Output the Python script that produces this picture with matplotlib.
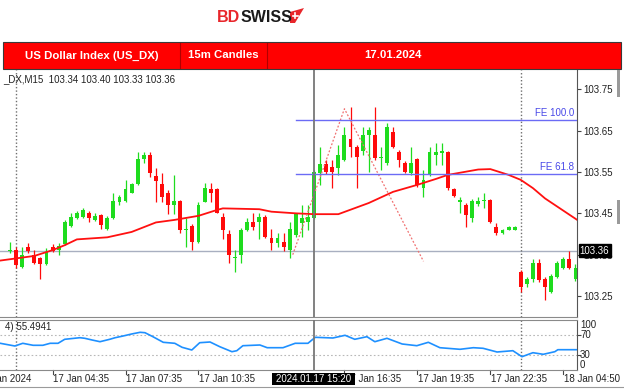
import matplotlib
matplotlib.use('Agg')
import matplotlib.pyplot as plt
from matplotlib import font_manager
from matplotlib.patches import Rectangle, Polygon
from matplotlib.lines import Line2D
import numpy as np

# ---------------- data ----------------
opens = [103.358, 103.361, 103.321, 103.369, 103.349, 103.342, 103.327, 103.369, 103.361, 103.377,
         103.419, 103.439, 103.440, 103.450, 103.434, 103.446, 103.411, 103.439, 103.478, 103.480,
         103.500, 103.520, 103.581, 103.591, 103.540, 103.520, 103.500, 103.470, 103.480, 103.410,
         103.419, 103.381, 103.478, 103.508, 103.508, 103.440, 103.400, 103.341, 103.349, 103.410,
         103.430, 103.430, 103.440, 103.390, 103.379, 103.381, 103.361, 103.398, 103.426, 103.430,
         103.438, 103.547, 103.569, 103.561, 103.560, 103.579, 103.631, 103.611, 103.601, 103.639,
         103.639, 103.584, 103.571, 103.647, 103.599, 103.571, 103.547, 103.581, 103.511, 103.543,
         103.591, 103.597, 103.599, 103.508, 103.478, 103.470, 103.438, 103.473, 103.481, 103.482,
         103.418, 103.402, 103.410, 103.410, 103.309, 103.279, 103.290, 103.329, 103.290, 103.260,
         103.297, 103.319, 103.339, 103.290]
highs = [103.381, 103.368, 103.369, 103.379, 103.361, 103.345, 103.365, 103.376, 103.379, 103.434,
         103.450, 103.456, 103.462, 103.456, 103.450, 103.448, 103.444, 103.500, 103.494, 103.531,
         103.523, 103.599, 103.599, 103.599, 103.559, 103.548, 103.506, 103.543, 103.482, 103.439,
         103.424, 103.478, 103.523, 103.523, 103.511, 103.450, 103.410, 103.361, 103.415, 103.439,
         103.450, 103.450, 103.446, 103.411, 103.402, 103.402, 103.430, 103.451, 103.470, 103.470,
         103.555, 103.611, 103.579, 103.579, 103.615, 103.660, 103.708, 103.615, 103.660, 103.660,
         103.708, 103.611, 103.668, 103.660, 103.603, 103.577, 103.611, 103.583, 103.555, 103.611,
         103.619, 103.619, 103.601, 103.511, 103.490, 103.475, 103.485, 103.489, 103.499, 103.485,
         103.426, 103.412, 103.419, 103.419, 103.313, 103.297, 103.339, 103.339, 103.296, 103.303,
         103.335, 103.344, 103.360, 103.327]
lows = [103.355, 103.317, 103.318, 103.354, 103.327, 103.290, 103.325, 103.356, 103.349, 103.373,
        103.417, 103.436, 103.439, 103.430, 103.431, 103.411, 103.410, 103.436, 103.470, 103.477,
        103.499, 103.518, 103.571, 103.539, 103.478, 103.478, 103.448, 103.448, 103.402, 103.369,
        103.361, 103.378, 103.477, 103.478, 103.450, 103.387, 103.329, 103.309, 103.331, 103.407,
        103.410, 103.387, 103.391, 103.361, 103.369, 103.359, 103.341, 103.393, 103.393, 103.410,
        103.436, 103.518, 103.545, 103.511, 103.543, 103.577, 103.587, 103.511, 103.591, 103.551,
        103.579, 103.555, 103.567, 103.608, 103.563, 103.548, 103.543, 103.514, 103.490, 103.540,
        103.567, 103.567, 103.506, 103.489, 103.450, 103.418, 103.430, 103.468, 103.462, 103.427,
        103.398, 103.400, 103.409, 103.409, 103.260, 103.272, 103.284, 103.284, 103.240, 103.257,
        103.294, 103.315, 103.315, 103.286]
closes = [103.362, 103.325, 103.349, 103.360, 103.329, 103.327, 103.357, 103.360, 103.371, 103.430,
          103.440, 103.451, 103.458, 103.438, 103.444, 103.422, 103.438, 103.480, 103.490, 103.509,
          103.520, 103.581, 103.591, 103.547, 103.529, 103.490, 103.470, 103.480, 103.410, 103.412,
          103.381, 103.470, 103.511, 103.500, 103.451, 103.410, 103.349, 103.343, 103.410, 103.430,
          103.418, 103.440, 103.393, 103.379, 103.390, 103.368, 103.411, 103.450, 103.438, 103.442,
          103.551, 103.569, 103.549, 103.549, 103.591, 103.639, 103.611, 103.587, 103.639, 103.652,
          103.583, 103.586, 103.660, 103.611, 103.579, 103.551, 103.571, 103.518, 103.531, 103.599,
          103.599, 103.600, 103.511, 103.492, 103.482, 103.446, 103.481, 103.481, 103.482, 103.430,
          103.402, 103.410, 103.418, 103.418, 103.271, 103.290, 103.329, 103.289, 103.271, 103.298,
          103.329, 103.339, 103.319, 103.319]

ma_idx = [-2, 4, 7, 9, 11, 16, 20, 24, 27, 31, 34, 35, 41, 43, 47, 50, 54, 59, 63, 67, 70, 72,
          77, 79, 82, 84, 86, 88, 93.5]
ma_val = [103.335, 103.347, 103.361, 103.373, 103.387, 103.392, 103.405, 103.428, 103.434, 103.444,
          103.458, 103.462, 103.460, 103.454, 103.450, 103.448, 103.448, 103.475, 103.502, 103.519,
          103.533, 103.543, 103.556, 103.557, 103.543, 103.531, 103.511, 103.486, 103.432]

rsi_idx = [-1.6, 0.8, 2.1, 3.8, 5.4, 6.6, 7.9, 9.0, 11.5, 12.3, 13.5, 14.8, 16.4, 17.3, 18.6, 20.0,
           21.4, 22.2, 23.5, 25.2, 27.1, 28.3, 29.9, 31.2, 32.9, 34.5, 36.5, 37.3, 38.3, 41.1, 42.3,
           44.9, 46.9, 49.0, 50.2, 53.1, 55.1, 56.7, 58.7, 60.0, 62.0, 64.5, 66.9, 68.8, 70.7, 74.0,
           76.2, 77.8, 80.1, 82.7, 84.2, 86.0, 87.7, 89.6, 90.1, 93.3]
rsi_val = [53.4, 48, 53.4, 49.4, 49.4, 53.4, 53.4, 61.4, 64.6, 63.4, 60, 56.6, 61.4, 64.6, 68, 72,
           75.4, 74.6, 66.6, 55.4, 53.4, 45.4, 40, 54.6, 56, 46.6, 36.6, 38.6, 48.6, 50, 44.6,
           44.6, 53.4, 53.4, 65.4, 64, 69.4, 61.4, 66.6, 56.6, 63.4, 52, 48.6, 55.4, 44.6, 41.4,
           44.6, 43.4, 36, 38.6, 26.6, 34.6, 31.4, 36.6, 40.6, 40.6]

fibo_idx = [46.5, 55.0, 68.0]
fibo_price = [103.350, 103.703, 103.334]
fe_levels = [103.676, 103.546]
fe_labels = ['FE 100.0', 'FE 61.8']
fe_start = 47.0

bid = 103.36
day_sep_idx = [1, 84]
cross_idx = 50
cross_label = '2024.01.17 15:20'

y_ticks = [103.25, 103.35, 103.45, 103.55, 103.65, 103.75]
time_label_idx = [-5.3, 7, 19, 31, 55, 67, 79, 91]
time_labels = ['17 Jan 2024', '17 Jan 04:35', '17 Jan 07:35', '17 Jan 10:35',
               '17 Jan 16:35', '17 Jan 19:35', '17 Jan 22:35', '18 Jan 04:50']
header_titles = ['US Dollar Index (US_DX)', '15m Candles', '17.01.2024']
info_text = '_DX,M15  103.34 103.40 103.33 103.36'
rsi_text = '4) 55.4941'

# ---------------- style ----------------
names = {f.name for f in font_manager.fontManager.ttflist}
BASE = 'Liberation Sans' if 'Liberation Sans' in names else 'DejaVu Sans'
NARROW = 'Liberation Sans Narrow' in names
HFONT = 'Liberation Sans Narrow' if NARROW else BASE
HSIZE = 10 if NARROW else 8.2

GREEN = '#1EDC1E'
RED = '#FF0A0A'
W, H = 624, 389

def fx(px):
    return px / W

def fy(py):
    return 1 - py / H

fig = plt.figure(figsize=(W / 100, H / 100), dpi=100)
fig.patch.set_facecolor('white')

# logo
fig.text(fx(240.5), fy(17.5), 'BD', color='#E8262B', fontsize=11.5, fontweight='bold',
         ha='right', va='center', family=BASE)
fig.text(fx(240.5), fy(17.5), 'SWISS', color='#1B1B1B', fontsize=11.5, fontweight='bold',
         ha='left', va='center', family=BASE)
icon = Polygon([(fx(290), fy(12)), (fx(304), fy(8)), (fx(295), fy(23)), (fx(290), fy(23))],
               closed=True, facecolor='#E8262B', edgecolor='none', transform=fig.transFigure)
fig.add_artist(icon)
fig.add_artist(Line2D([fx(292.5), fx(297.5)], [fy(15.5), fy(15.5)], color='white', lw=1.2,
                      transform=fig.transFigure))
fig.add_artist(Line2D([fx(295), fx(295)], [fy(13), fy(18)], color='white', lw=1.2,
                      transform=fig.transFigure))

# header bar
fig.add_artist(Rectangle((fx(3), fy(68.5)), fx(618), 26.5 / H, facecolor='#FF0000',
                         edgecolor='#3A3A3A', linewidth=0.8, transform=fig.transFigure))
for xd in (180, 267):
    fig.add_artist(Line2D([fx(xd), fx(xd)], [fy(42.5), fy(68)], color='#B00000', lw=0.8,
                          transform=fig.transFigure))
for t, xc in zip(header_titles, (92, 223, 393)):
    fig.text(fx(xc), fy(55.5), t, color='white', fontsize=HSIZE, fontweight='bold',
             ha='center', va='center', family=HFONT)

# ---------------- main axes ----------------
XL = (-1.645, 93.2)
ax = fig.add_axes([0, fy(316.7), fx(576.7), (316.7 - 70) / H])
ax.set_xlim(*XL)
ax.set_ylim(103.200, 103.7967)
ax.set_facecolor('white')
for s in ('top', 'left'):
    ax.spines[s].set_visible(False)
ax.spines['right'].set_color('#555555')
ax.spines['bottom'].set_color('#8A8A8A')
ax.yaxis.tick_right()
ax.set_yticks(y_ticks)
ax.set_yticklabels([f'{v:.2f}' for v in y_ticks])
ax.tick_params(axis='y', length=3, width=0.8, color='#444444', labelsize=7, pad=2,
               labelcolor='#222222')
for lab in ax.get_yticklabels():
    lab.set_family(BASE)
ax.set_xticks([])

o = np.array(opens); h = np.array(highs); l = np.array(lows); c = np.array(closes)
idx = np.arange(len(o))
cols = np.where(c >= o, GREEN, RED)
ax.axhline(bid, color='#A8AFC0', lw=1.0, zorder=1)
ax.vlines(idx, l, h, colors=cols, lw=0.9, zorder=2)
ax.bar(idx, np.maximum(np.abs(c - o), 0.0024), bottom=np.minimum(o, c), width=0.64,
       color=cols, linewidth=0, zorder=2)
ax.plot(ma_idx, ma_val, color='#FF1010', lw=1.3, zorder=3, solid_capstyle='round')

# fibo expansion
ax.plot(fibo_idx, fibo_price, color='#F07070', lw=0.9, ls=(0, (1.5, 1.5)), zorder=4)
for lv, lb in zip(fe_levels, fe_labels):
    ax.plot([fe_start, XL[1]], [lv, lv], color='#6B6BF5', lw=1.0, zorder=4)
    ax.annotate(lb, xy=(XL[1], lv), xytext=(-2, 1.5), textcoords='offset points',
                ha='right', va='bottom', fontsize=7, color='#4848E8', family=BASE)

# info text
ax.text(0.005, 0.985, info_text, transform=ax.transAxes, ha='left', va='top', fontsize=7,
        color='#222222', family=BASE)

# bid label box
ax.annotate(f'{bid:.2f}', xy=(1.0, bid), xycoords=('axes fraction', 'data'),
            xytext=(2.2, 0), textcoords='offset points', ha='left', va='center',
            fontsize=7, color='white', family=BASE,
            bbox=dict(boxstyle='square,pad=0.12', facecolor='black', edgecolor='black'),
            annotation_clip=False, zorder=10)

# ---------------- RSI axes ----------------
ax2 = fig.add_axes([0, fy(370), fx(576.7), 50 / H])
ax2.set_xlim(*XL)
ax2.set_ylim(0, 100)
ax2.spines['left'].set_visible(False)
for s in ('top', 'bottom'):
    ax2.spines[s].set_color('#8A8A8A')
ax2.spines['right'].set_color('#555555')
ax2.yaxis.tick_right()
ax2.set_yticks([30, 70])
ax2.set_yticklabels([])
ax2.tick_params(axis='y', length=3, width=0.8, color='#444444')
ax2.set_xticks([])
for g in (30, 70):
    ax2.axhline(g, color='#B8B8B8', lw=0.8, ls=(0, (1.5, 2)), zorder=1)
ax2.plot(rsi_idx, rsi_val, color='#1E90FF', lw=1.2, zorder=3)
for lab, yy in zip(['100', '70', '30', '0'], [325.5, 335, 355, 364.5]):
    fig.text(fx(580), fy(yy), lab, fontsize=7, ha='left', va='center', color='#222222',
             family=BASE)
ax2.text(0.008, 0.86, rsi_text, transform=ax2.transAxes, ha='left', va='center', fontsize=7,
         color='#222222', family=BASE)

# vertical separators and crosshair
for a in (ax, ax2):
    for d in day_sep_idx:
        a.axvline(d, color='#6E6E6E', lw=1.0, ls=(0, (1, 1.5)), zorder=1)
    a.axvline(cross_idx, color='#777777', lw=1.3, zorder=5)

# time labels
xt = ax2.get_xaxis_transform()
for ti, tl in zip(time_label_idx, time_labels):
    ax2.text(ti + 0.1, -0.17, tl, transform=xt, ha='left', va='center', fontsize=7,
             color='#222222', family=BASE, clip_on=False)
    if XL[0] <= ti <= XL[1]:
        ax2.plot([ti, ti], [0, -0.07], transform=xt, color='#444444', lw=0.8, clip_on=False)

# crosshair time box
fig.add_artist(Rectangle((fx(272), fy(385)), fx(83), 12 / H, facecolor='black',
                         edgecolor='none', transform=fig.transFigure, zorder=10))
fig.text(fx(313.5), fy(379), cross_label, fontsize=7, color='white', ha='center',
         va='center', family=BASE, zorder=11)

# bottom frame line
fig.add_artist(Line2D([0, 1], [fy(387), fy(387)], color='#9A9A9A', lw=0.8,
                      transform=fig.transFigure))
# scrollbar bits on the right edge
for y0, y1 in ((70, 97), (200, 224)):
    fig.add_artist(Rectangle((fx(617), fy(y1)), fx(2.5), (y1 - y0) / H, facecolor='#9A9A9A',
                             edgecolor='none', transform=fig.transFigure))

fig.savefig('out.png', dpi=100, facecolor='white')
